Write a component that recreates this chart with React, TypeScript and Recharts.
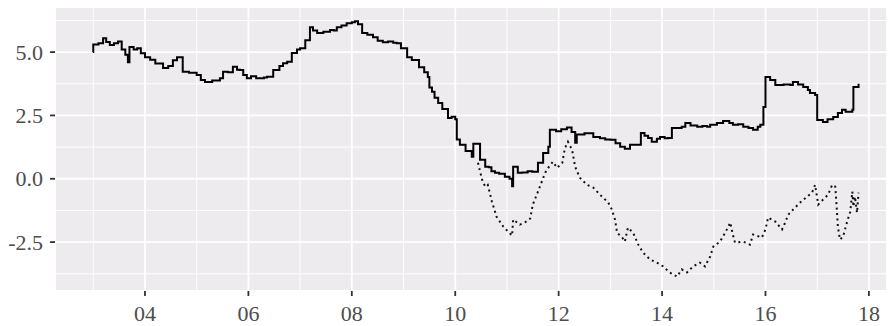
import React from "react";
import { LineChart, Line, XAxis, YAxis, CartesianGrid, ReferenceLine } from "recharts";

const solidYears = [2.99,3.0,3.1,3.19,3.25,3.32,3.4,3.48,3.55,3.62,3.67,3.7,3.78,3.85,3.92,4.0,4.1,4.2,4.35,4.45,4.54,4.62,4.7,4.73,4.85,5.0,5.08,5.16,5.3,5.45,5.51,5.6,5.7,5.78,5.84,5.9,5.97,6.05,6.15,6.3,6.36,6.48,6.6,6.67,6.75,6.84,6.94,7.0,7.1,7.19,7.25,7.33,7.45,7.58,7.65,7.71,7.8,7.9,8.0,8.06,8.12,8.2,8.3,8.41,8.5,8.6,8.7,8.8,8.87,8.95,9.07,9.16,9.3,9.4,9.47,9.5,9.55,9.6,9.67,9.75,9.86,9.93,10.0,10.03,10.09,10.2,10.32,10.35,10.45,10.48,10.58,10.65,10.7,10.77,10.85,10.96,11.05,11.1,11.12,11.21,11.3,11.4,11.49,11.6,11.7,11.8,11.83,11.95,12.05,12.16,12.25,12.32,12.35,12.5,12.67,12.8,12.9,13.0,13.1,13.19,13.28,13.38,13.54,13.59,13.66,13.73,13.8,13.9,13.96,14.05,14.12,14.19,14.3,14.38,14.45,14.55,14.68,14.78,14.87,14.93,15.06,15.18,15.3,15.37,15.47,15.57,15.67,15.76,15.85,15.9,15.96,16.0,16.09,16.19,16.35,16.48,16.53,16.63,16.73,16.82,16.86,16.96,17.0,17.11,17.2,17.31,17.4,17.48,17.55,17.68,17.7,17.8];
const solidValues = [5.0,5.3,5.35,5.55,5.4,5.28,5.35,5.42,5.1,4.9,4.6,5.2,5.1,5.15,4.95,4.8,4.7,4.55,4.37,4.45,4.68,4.8,4.8,4.22,4.18,4.1,3.9,3.82,3.88,3.97,4.22,4.2,4.42,4.3,4.29,4.1,3.97,4.05,3.97,4.0,4.03,4.29,4.45,4.56,4.62,4.96,5.1,5.15,5.47,5.98,5.85,5.75,5.8,5.87,5.85,5.98,6.05,6.14,6.18,6.22,6.1,5.75,5.68,5.59,5.45,5.39,5.42,5.37,5.35,5.15,4.8,4.69,4.4,4.2,4.02,3.6,3.43,3.2,2.99,2.75,2.4,2.45,2.35,1.55,1.34,1.1,0.87,1.38,1.38,0.75,0.47,0.45,0.3,0.24,0.2,0.08,0.0,-0.3,0.47,0.24,0.25,0.3,0.28,0.63,1.02,1.26,1.93,1.88,1.95,2.02,1.85,1.42,1.75,1.8,1.65,1.6,1.55,1.54,1.4,1.26,1.18,1.34,1.34,1.81,1.7,1.61,1.46,1.58,1.65,1.6,1.61,2.0,2.0,2.05,2.2,2.1,2.05,2.08,2.05,2.13,2.2,2.28,2.2,2.13,2.15,2.05,2.0,1.93,2.05,2.13,2.83,4.02,3.9,3.7,3.72,3.7,3.82,3.72,3.62,3.5,3.39,3.31,2.32,2.24,2.35,2.44,2.6,2.72,2.65,2.72,3.62,3.75];

const dottedYears = [10.44,10.52,10.58,10.63,10.71,10.8,10.93,11.03,11.1,11.12,11.25,11.35,11.45,11.5,11.6,11.74,11.82,11.89,11.97,12.07,12.12,12.18,12.26,12.32,12.41,12.55,12.67,12.8,12.96,13.03,13.09,13.13,13.23,13.28,13.34,13.44,13.54,13.63,13.77,13.9,14.02,14.15,14.29,14.38,14.48,14.6,14.73,14.83,14.93,14.99,15.12,15.22,15.32,15.36,15.41,15.57,15.7,15.76,15.93,16.0,16.05,16.19,16.32,16.38,16.44,16.57,16.67,16.8,16.9,16.96,17.02,17.11,17.21,17.29,17.35,17.38,17.4,17.44,17.5,17.58,17.64,17.68,17.7,17.73,17.77,17.8];
const dottedValues = [0.63,-0.04,-0.31,-0.24,-0.91,-1.5,-1.89,-2.1,-2.24,-1.61,-1.81,-1.72,-1.57,-1.02,-0.51,0.24,0.5,0.67,0.43,0.63,1.2,1.46,1.14,0.47,0.04,-0.24,-0.35,-0.63,-0.94,-1.22,-1.61,-2.13,-2.32,-2.48,-1.93,-2.13,-2.6,-2.91,-3.19,-3.31,-3.46,-3.7,-3.86,-3.58,-3.7,-3.46,-3.31,-3.46,-3.07,-2.68,-2.48,-2.13,-1.73,-2.13,-2.52,-2.48,-2.6,-2.2,-2.32,-2.0,-1.53,-1.69,-2.0,-1.73,-1.42,-1.14,-0.94,-0.71,-0.55,-0.24,-1.02,-0.83,-0.63,-0.24,-0.31,-1.22,-1.89,-2.4,-2.28,-1.69,-1.3,-0.51,-1.1,-0.71,-1.34,-0.55];

const xTicks = [4, 6, 8, 10, 12, 14, 16, 18];
const xTickLabels = ["04", "06", "08", "10", "12", "14", "16", "18"];
const yTicks = [-2.5, 0, 2.5, 5];
const yTickLabels = ["-2.5", "0.0", "2.5", "5.0"];
const xMinor = [3, 5, 7, 9, 11, 13, 15, 17];
const yMinor = [-3.75, -1.25, 1.25, 3.75, 6.25];

const solidData = solidYears.map((x, i) => ({ x, v: solidValues[i] }));
const dottedData = dottedYears.map((x, i) => ({ x, v: dottedValues[i] }));

const fontFamily = "Liberation Serif, Times New Roman, serif";

const XTick = (props: any) => {
  const { x, y, payload } = props;
  const label = xTickLabels[xTicks.indexOf(payload.value)] ?? String(payload.value);
  return (
    <text x={x} y={y + 25} textAnchor="middle" fill="#4D4D4D" fontSize={22} fontFamily={fontFamily}>
      {label}
    </text>
  );
};

const YTick = (props: any) => {
  const { x, y, payload } = props;
  const label = yTickLabels[yTicks.indexOf(payload.value)] ?? String(payload.value);
  return (
    <text x={x - 7} y={y + 7.5} textAnchor="end" fill="#4D4D4D" fontSize={22} fontFamily={fontFamily}>
      {label}
    </text>
  );
};

export default function App() {
  return (
    <div style={{ position: "absolute", left: 0, top: 0, width: 891, height: 326, background: "#fff", fontFamily }}>
      <LineChart width={891} height={326} margin={{ top: 7, right: 4, left: 0, bottom: 0 }}>
        <CartesianGrid fill="#EEEBEF" stroke="#ffffff" strokeWidth={1.8} />
        {xMinor.map((m) => (
          <ReferenceLine key={"xm" + m} x={m} stroke="#ffffff" strokeWidth={0.9} />
        ))}
        {yMinor.map((m) => (
          <ReferenceLine key={"ym" + m} y={m} stroke="#ffffff" strokeWidth={0.9} />
        ))}
        <XAxis
          type="number"
          dataKey="x"
          domain={[2.26, 18.35]}
          ticks={xTicks}
          allowDataOverflow
          axisLine={false}
          tickLine={{ stroke: "#333333", strokeWidth: 1.8 }}
          tickSize={5}
          tickMargin={0}
          height={35}
          tick={<XTick />}
        />
        <YAxis
          type="number"
          domain={[-4.43, 6.78]}
          ticks={yTicks}
          allowDataOverflow
          axisLine={false}
          tickLine={{ stroke: "#333333", strokeWidth: 1.8 }}
          tickSize={5}
          tickMargin={0}
          width={55}
          tick={<YTick />}
        />
        <Line
          data={dottedData}
          dataKey="v"
          type="linear"
          stroke="#111111"
          strokeWidth={2}
          strokeDasharray="2 3.5"
          dot={false}
          isAnimationActive={false}
        />
        <Line
          data={solidData}
          dataKey="v"
          type="stepAfter"
          stroke="#000000"
          strokeWidth={2}
          dot={false}
          isAnimationActive={false}
        />
      </LineChart>
    </div>
  );
}
